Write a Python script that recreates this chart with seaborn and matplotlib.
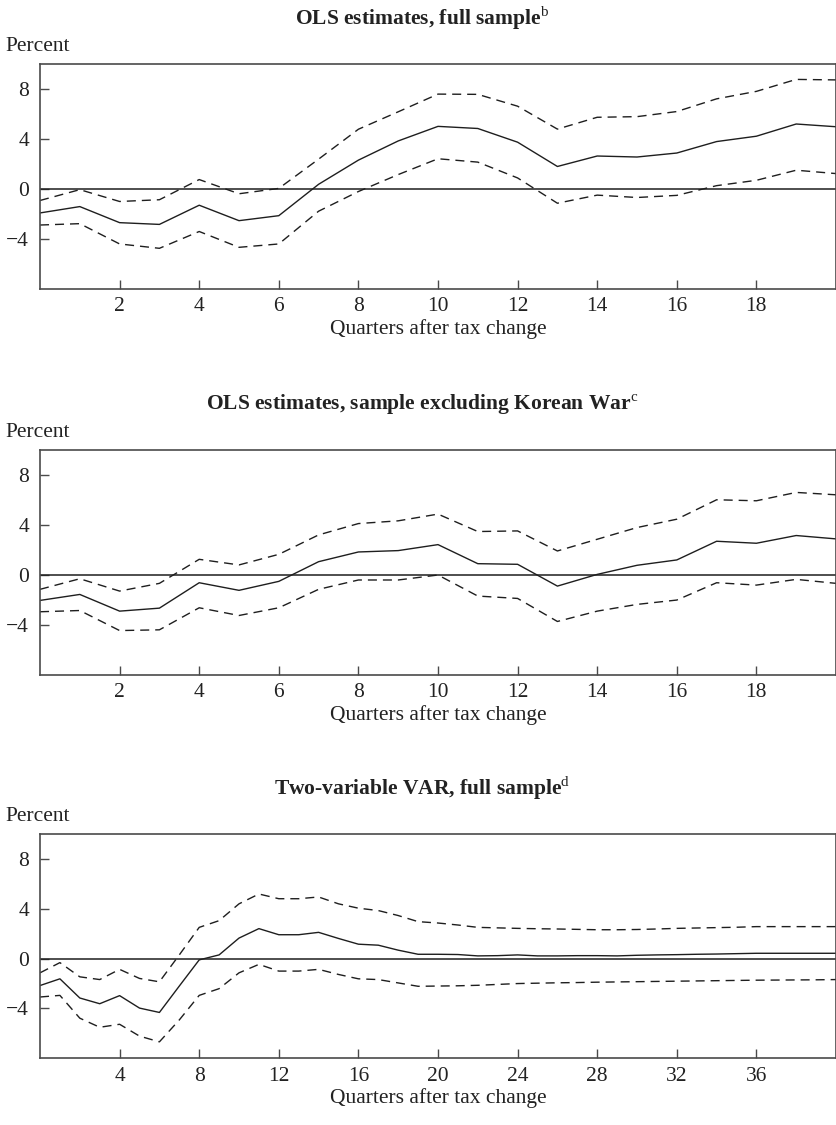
import matplotlib
matplotlib.use("Agg")
import matplotlib.pyplot as plt
import seaborn as sns

# ==============================================================================
# DATA
# ==============================================================================
quarters_20 = list(range(21))
quarters_40 = list(range(41))

ols_full_mid = [-1.92, -1.41, -2.70, -2.84, -1.30, -2.54, -2.14, 0.38, 2.32, 3.86, 5.03,
                4.86, 3.76, 1.81, 2.65, 2.57, 2.89, 3.81, 4.24, 5.22, 5.00]
ols_full_hi = [-0.92, -0.05, -1.00, -0.86, 0.76, -0.38, 0.05, 2.40, 4.80, 6.20, 7.62,
               7.60, 6.65, 4.81, 5.76, 5.81, 6.22, 7.24, 7.84, 8.80, 8.76]
ols_full_lo = [-2.89, -2.78, -4.41, -4.76, -3.41, -4.68, -4.41, -1.78, -0.20, 1.16, 2.43,
               2.16, 0.89, -1.14, -0.49, -0.68, -0.51, 0.27, 0.70, 1.51, 1.24]

ols_nokw_mid = [-2.04, -1.56, -2.90, -2.66, -0.62, -1.23, -0.51, 1.07, 1.85, 1.96, 2.44,
                0.91, 0.86, -0.89, 0.05, 0.78, 1.21, 2.71, 2.55, 3.17, 2.90]
ols_nokw_hi = [-1.15, -0.30, -1.29, -0.67, 1.26, 0.81, 1.66, 3.22, 4.13, 4.35, 4.89,
               3.49, 3.54, 1.93, 2.87, 3.81, 4.48, 6.04, 5.96, 6.63, 6.44]
ols_nokw_lo = [-2.95, -2.85, -4.46, -4.40, -2.63, -3.25, -2.63, -1.15, -0.40, -0.40, 0.00,
               -1.69, -1.88, -3.73, -2.90, -2.36, -2.01, -0.62, -0.81, -0.35, -0.67]

var_mid = [-2.16, -1.62, -3.16, -3.62, -2.97, -3.97, -4.32, -2.20, -0.10, 0.30, 1.65,
           2.41, 1.92, 1.92, 2.11, 1.62, 1.16, 1.08, 0.68, 0.35, 0.35,
           0.33, 0.22, 0.24, 0.30, 0.22, 0.22, 0.24, 0.24, 0.22, 0.27,
           0.30, 0.32, 0.35, 0.37, 0.40, 0.43, 0.43, 0.43, 0.43, 0.43]
var_hi = [-1.14, -0.32, -1.46, -1.68, -0.86, -1.59, -1.86, 0.30, 2.51, 3.05, 4.40,
          5.19, 4.81, 4.81, 4.95, 4.40, 4.05, 3.86, 3.46, 2.97, 2.86,
          2.70, 2.51, 2.47, 2.43, 2.40, 2.38, 2.35, 2.32, 2.32, 2.34,
          2.38, 2.43, 2.46, 2.49, 2.52, 2.57, 2.57, 2.57, 2.57, 2.57]
var_lo = [-3.08, -2.95, -4.78, -5.51, -5.27, -6.22, -6.68, -4.92, -2.95, -2.41, -1.14,
          -0.46, -1.00, -1.00, -0.86, -1.27, -1.62, -1.68, -1.95, -2.22, -2.20,
          -2.18, -2.14, -2.07, -2.00, -1.97, -1.94, -1.92, -1.89, -1.87, -1.85,
          -1.83, -1.81, -1.79, -1.77, -1.75, -1.73, -1.72, -1.71, -1.70, -1.68]

panels = [
    ("OLS estimates, full sample", "b", quarters_20, ols_full_mid, ols_full_hi, ols_full_lo,
     [2, 4, 6, 8, 10, 12, 14, 16, 18], 20),
    ("OLS estimates, sample excluding Korean War", "c", quarters_20, ols_nokw_mid, ols_nokw_hi, ols_nokw_lo,
     [2, 4, 6, 8, 10, 12, 14, 16, 18], 20),
    ("Two-variable VAR, full sample", "d", quarters_40, var_mid, var_hi, var_lo,
     [4, 8, 12, 16, 20, 24, 28, 32, 36], 40),
]

# ==============================================================================
# STYLE
# ==============================================================================
sns.set_style("ticks")
plt.rcParams['font.family'] = ['Liberation Serif', 'DejaVu Serif']
plt.rcParams['mathtext.fontset'] = 'custom'
plt.rcParams['mathtext.rm'] = 'Liberation Serif'
plt.rcParams['lines.scale_dashes'] = False
plt.rcParams['lines.dashed_pattern'] = [6.5, 4.3]

LINE_COLOR = '#1e1e1e'
SPINE_COLOR = '#4a4a4a'
TEXT_COLOR = '#222222'
FS = 15.5

fig = plt.figure(figsize=(8.37, 11.25), dpi=100)
axes_boxes = [
    [0.0478, 0.7434, 0.951, 0.1993],
    [0.0478, 0.4003, 0.951, 0.1993],
    [0.0478, 0.0593, 0.951, 0.1993],
]

for box, (title, sup, q, mid, hi, lo, xticks, xmax) in zip(axes_boxes, panels):
    ax = fig.add_axes(box)
    ax.axhline(0, color=LINE_COLOR, linewidth=1.1, zorder=1)
    sns.lineplot(x=q, y=mid, ax=ax, color=LINE_COLOR, linewidth=1.0)
    sns.lineplot(x=q, y=hi, ax=ax, color=LINE_COLOR, linewidth=1.0, linestyle='--')
    sns.lineplot(x=q, y=lo, ax=ax, color=LINE_COLOR, linewidth=1.0, linestyle='--')

    ax.set_xlim(0, xmax)
    ax.set_ylim(-8, 10)
    ax.set_xticks(xticks)
    ax.set_yticks([-4, 0, 4, 8])
    ax.tick_params(direction='in', length=6.5, width=1.0, color=SPINE_COLOR,
                   labelsize=FS, labelcolor=TEXT_COLOR)
    ax.tick_params(axis='y', pad=8)
    ax.tick_params(axis='x', pad=6)
    for side in ['top', 'right', 'bottom', 'left']:
        ax.spines[side].set_visible(True)
        ax.spines[side].set_color(SPINE_COLOR)
        ax.spines[side].set_linewidth(1.2)

    ax.set_xlabel("Quarters after tax change", fontsize=FS, color=TEXT_COLOR, labelpad=2)
    ax.set_ylabel("")
    ax.text(0.48, 1.205, title + r"$^{\rm " + sup + "}$", transform=ax.transAxes,
            ha='center', va='center', fontsize=15.5, fontweight='bold', color=TEXT_COLOR)
    ax.text(-0.044, 1.078, "Percent", transform=ax.transAxes,
            ha='left', va='center', fontsize=FS, color=TEXT_COLOR)

fig.savefig("out.png", dpi=100)
